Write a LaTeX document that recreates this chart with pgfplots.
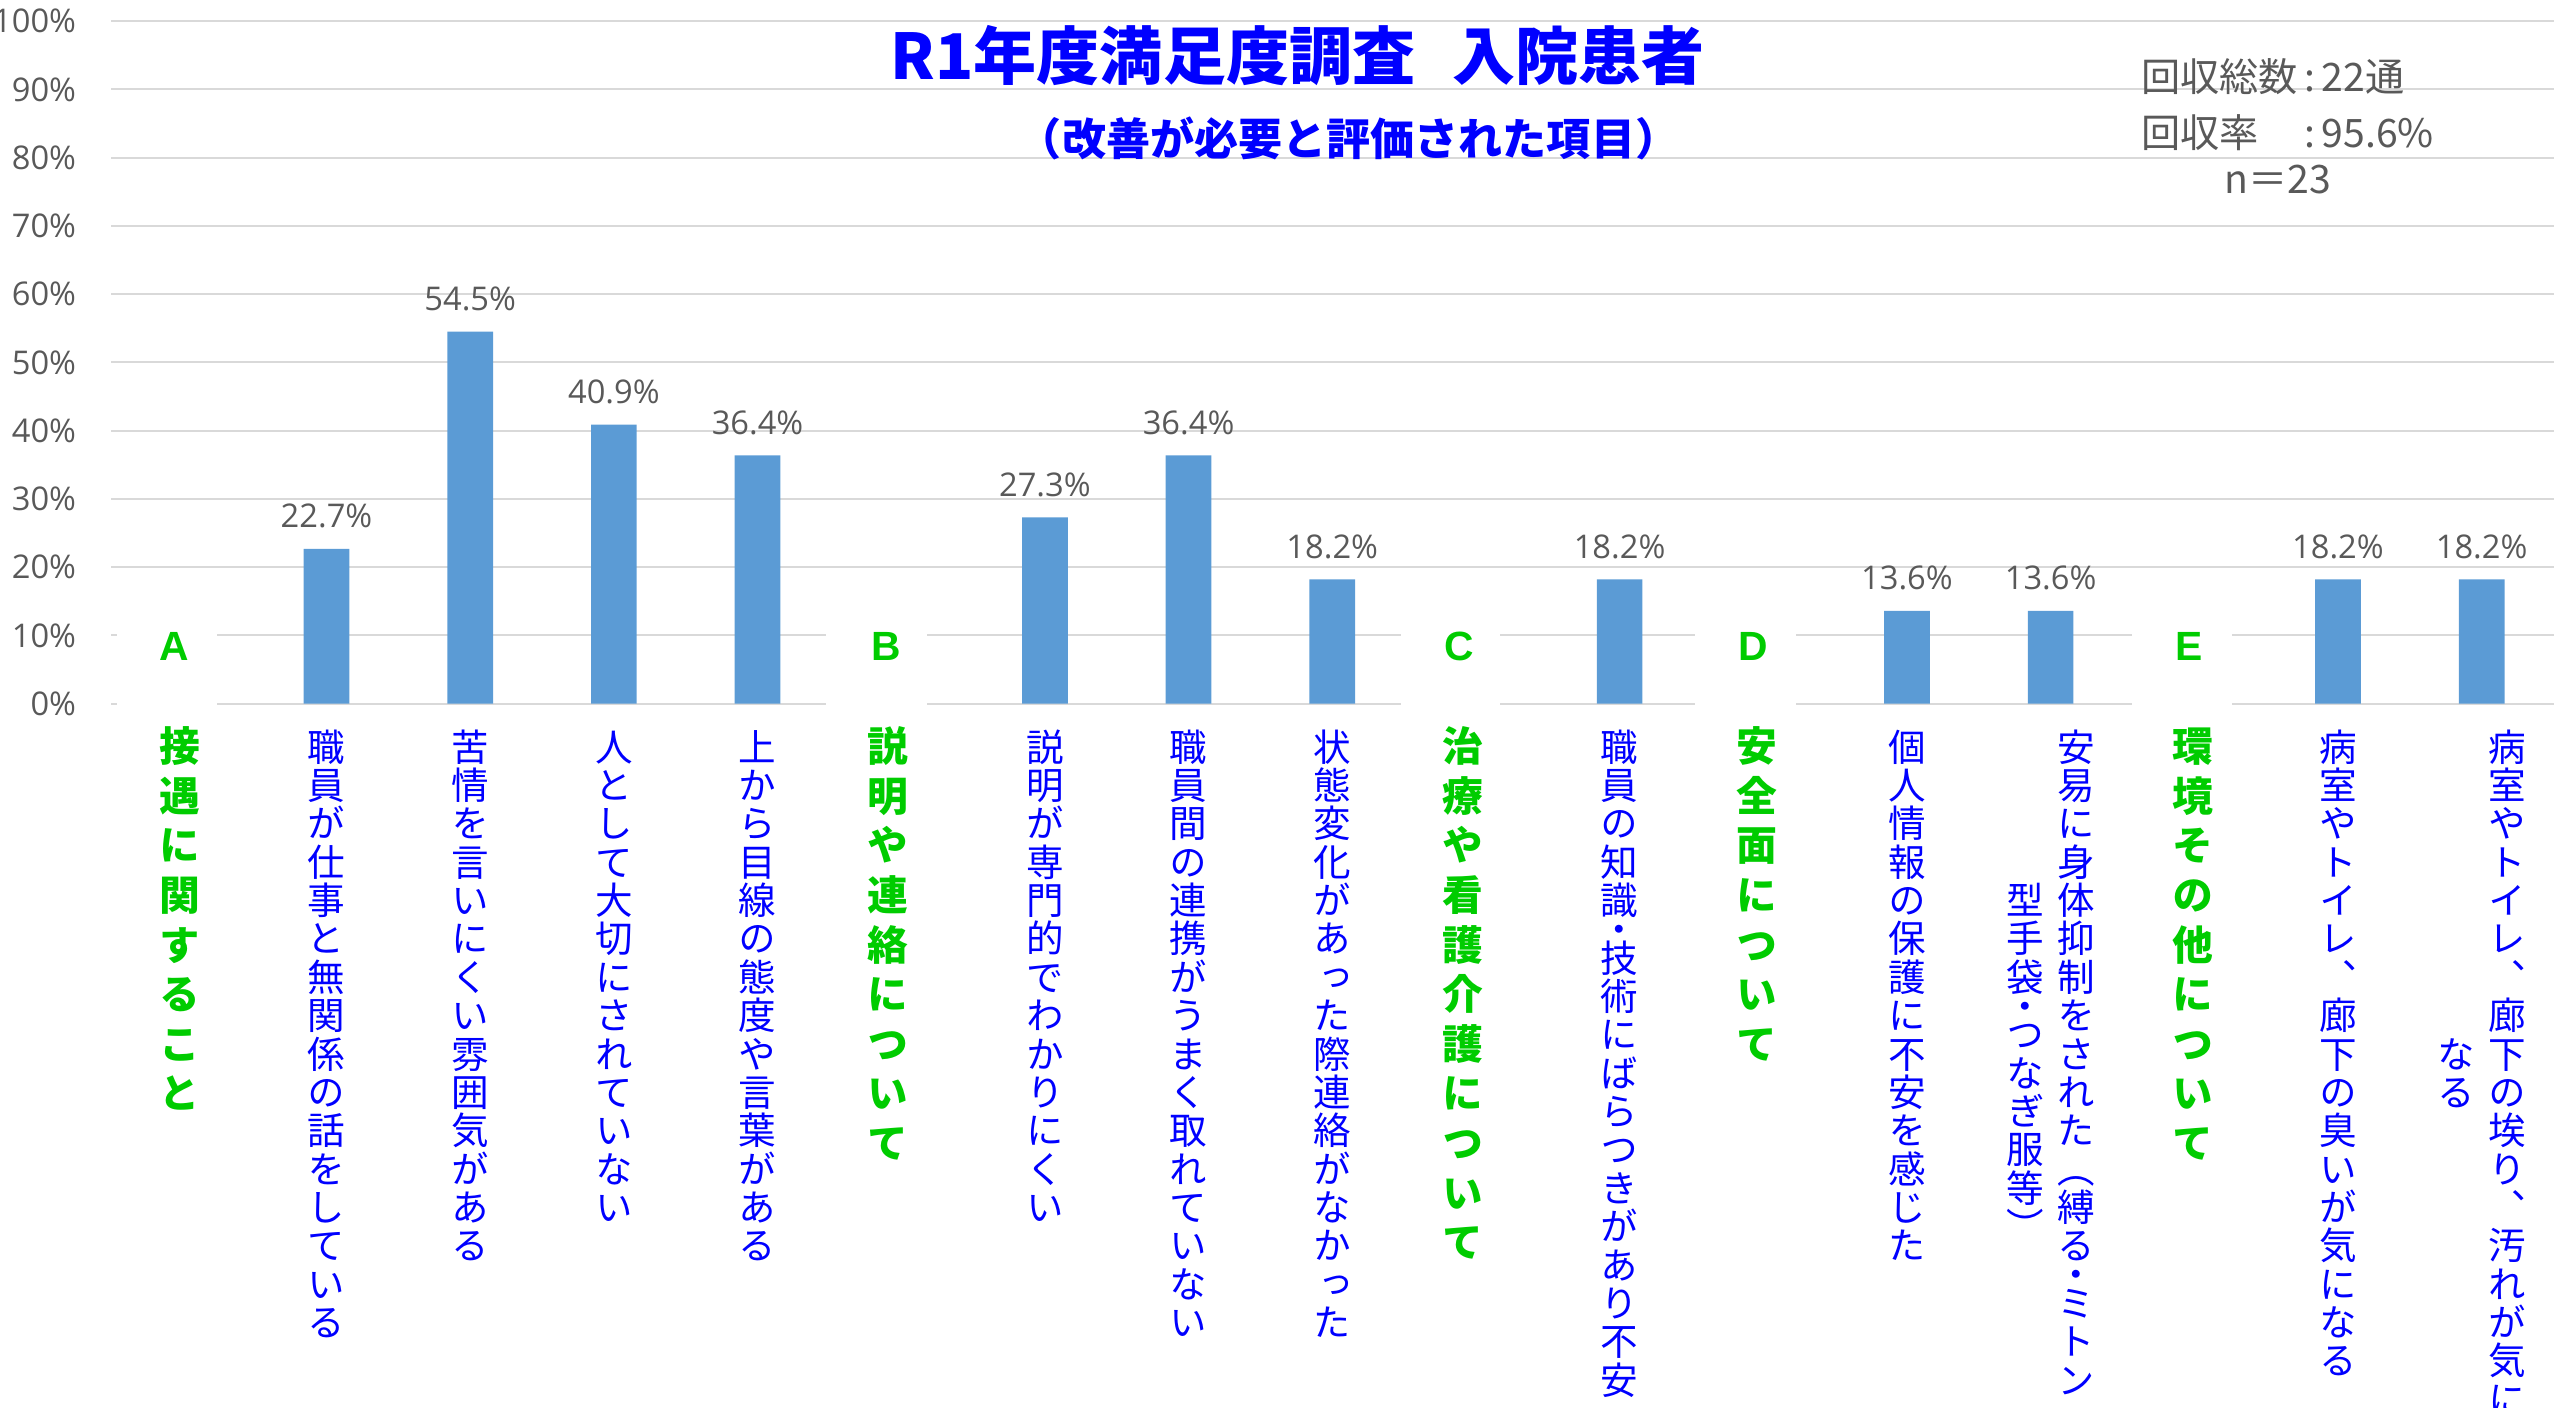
\documentclass[border=0pt]{standalone}
\usepackage{fontspec}
\usepackage{pgfplots}
\pgfplotsset{compat=1.18}
\newfontfamily\jp{Noto Sans CJK JP}
\newfontfamily\jpv{Noto Sans CJK JP}[RawFeature=+vert]
\newfontfamily\lat{Open Sans}
\newfontfamily\arl{Liberation Sans}
\definecolor{barblue}{HTML}{5B9BD5}
\definecolor{txtgray}{HTML}{595959}
\definecolor{gridgray}{HTML}{D9D9D9}
\definecolor{hgreen}{HTML}{00CC00}
\definecolor{lblue}{HTML}{0000FF}
\makeatletter
\newdimen\vpitch
\vpitch=11.75pt
\def\vcol@end{\vcol@end}
\protected\def\vcol#1{\vtop{\baselineskip=\vpitch\lineskiplimit=-\maxdimen\lineskip=0pt\relax\vcol@loop#1\vcol@end}}
\def\vcol@loop#1{\ifx\vcol@end#1\else
  \ifx#1・\vskip-.25\vpitch\fi
  \hbox to 1em{\hss#1\hss\vrule height .88em depth .12em width 0pt}%
  \ifx#1・\vskip-.25\vpitch\fi
  \expandafter\vcol@loop\fi}
\protected\def\vtwo#1#2#3{\hbox{\lower#1\vpitch\vcol{#2}\kern4.2pt\vcol{#3}}}
\makeatother
\begin{document}
\begin{tikzpicture}
\path[use as bounding box] (-34pt,-215.5pt) rectangle (750pt,215.5pt);
\clip (-34pt,-215.5pt) rectangle (750pt,215.5pt);
\begin{axis}[
  at={(0pt,0pt)}, anchor=south west,
  scale only axis, width=748pt, height=209pt,
  xmin=-0.5, xmax=16.5, ymin=0, ymax=100,
  clip=false,
  axis line style={draw=none},
  tick style={draw=none},
  ymajorgrids, major grid style={draw=gridgray, line width=0.6pt},
  ytick={0,10,...,100},
  yticklabels={0\%,10\%,20\%,30\%,40\%,50\%,60\%,70\%,80\%,90\%,100\%},
  yticklabel style={font=\lat\fontsize{10}{12}\selectfont, text=txtgray, anchor=east, inner sep=0pt, xshift=-10.5pt},
  xtick={0,...,16},
  xticklabels={
    {},
    {\vcol{職員が仕事と無関係の話をしている}},
    {\vcol{苦情を言いにくい雰囲気がある}},
    {\vcol{人として大切にされていない}},
    {\vcol{上から目線の態度や言葉がある}},
    {},
    {\vcol{説明が専門的でわかりにくい}},
    {\vcol{職員間の連携がうまく取れていない}},
    {\vcol{状態変化があった際連絡がなかった}},
    {},
    {\vcol{職員の知識・技術にばらつきがあり不安}},
    {},
    {\vcol{個人情報の保護に不安を感じた}},
    {\vtwo{4}{型手袋・つなぎ服等︶}{安易に身体抑制をされた︵縛る・ミトン}},
    {},
    {\vcol{病室やトイレ︑廊下の臭いが気になる}},
    {\vtwo{8}{なる}{病室やトイレ︑廊下の埃り︑汚れが気に}}
  },
  xticklabel style={font=\jpv\fontsize{11.5}{11.75}\selectfont, text=lblue, anchor=north, inner sep=0pt, yshift=-3pt},
  ybar, bar width=14pt,
  /pgf/number format/assume math mode=true,
  nodes near coords={\pgfmathprintnumber[fixed,fixed zerofill,precision=1]{\pgfplotspointmeta}\%},
  every node near coord/.append style={font=\lat\fontsize{10}{12}\selectfont, text=txtgray, anchor=base, inner sep=0pt, yshift=6.4pt},
]
\addplot[fill=barblue, draw=none] coordinates {
  (1,22.7) (2,54.5) (3,40.9) (4,36.4)
  (6,27.3) (7,36.4) (8,18.2)
  (10,18.2)
  (12,13.6) (13,13.6)
  (15,18.2) (16,18.2)
};
% white text boxes of the section headers
\fill[white] (axis cs:-0.455,-2) rectangle (axis cs:0.239,14);
\fill[white] (axis cs:4.477,-2) rectangle (axis cs:5.182,14);
\fill[white] (axis cs:8.477,-2) rectangle (axis cs:9.17,14);
\fill[white] (axis cs:10.523,-2) rectangle (axis cs:11.227,14);
\fill[white] (axis cs:13.568,-2) rectangle (axis cs:14.261,14);
\node[font=\arl\bfseries\fontsize{12.5}{14}\selectfont, text=hgreen, inner sep=0pt] at (axis cs:-0.057,8.37) {A};
\node[font=\arl\bfseries\fontsize{12.5}{14}\selectfont, text=hgreen, inner sep=0pt] at (axis cs:4.894,8.37) {B};
\node[font=\arl\bfseries\fontsize{12.5}{14}\selectfont, text=hgreen, inner sep=0pt] at (axis cs:8.883,8.37) {C};
\node[font=\arl\bfseries\fontsize{12.5}{14}\selectfont, text=hgreen, inner sep=0pt] at (axis cs:10.928,8.37) {D};
\node[font=\arl\bfseries\fontsize{12.5}{14}\selectfont, text=hgreen, inner sep=0pt] at (axis cs:13.966,8.37) {E};
\node[font=\jpv\bfseries\fontsize{12.5}{15.2}\selectfont, text=hgreen, inner sep=0pt, anchor=north, yshift=-6.5pt] at (axis cs:-0.023,0) {\vpitch=15.2pt\relax\vcol{接遇に関すること}};
\node[font=\jpv\bfseries\fontsize{12.5}{15.2}\selectfont, text=hgreen, inner sep=0pt, anchor=north, yshift=-6.5pt] at (axis cs:4.91,0) {\vpitch=15.2pt\relax\vcol{説明や連絡について}};
\node[font=\jpv\bfseries\fontsize{12.5}{15.2}\selectfont, text=hgreen, inner sep=0pt, anchor=north, yshift=-6.5pt] at (axis cs:8.91,0) {\vpitch=15.2pt\relax\vcol{治療や看護介護について}};
\node[font=\jpv\bfseries\fontsize{12.5}{15.2}\selectfont, text=hgreen, inner sep=0pt, anchor=north, yshift=-6.5pt] at (axis cs:10.955,0) {\vpitch=15.2pt\relax\vcol{安全面について}};
\node[font=\jpv\bfseries\fontsize{12.5}{15.2}\selectfont, text=hgreen, inner sep=0pt, anchor=north, yshift=-6.5pt] at (axis cs:13.99,0) {\vpitch=15.2pt\relax\vcol{環境その他について}};
\end{axis}
\node[font=\jp\bfseries\fontsize{19.3}{22}\selectfont, text=lblue, inner sep=0pt] at (363.5pt,198.5pt) {R1年度満足度調査\hspace{0.6em}入院患者};
\node[font=\jp\bfseries\fontsize{13.5}{16}\selectfont, text=lblue, inner sep=0pt] at (379pt,173pt) {（改善が必要と評価された項目）};
\node[font=\jp\fontsize{12}{14}\selectfont, text=txtgray, inner sep=0pt, anchor=west] at (621.5pt,192pt) {回収総数\,:\,22通};
\node[font=\jp\fontsize{12}{14}\selectfont, text=txtgray, inner sep=0pt, anchor=west] at (621.5pt,175pt) {回収率　\,:\,95.6\%};
\node[font=\jp\fontsize{12}{14}\selectfont, text=txtgray, inner sep=0pt, anchor=west] at (647pt,160.5pt) {n＝23};
\end{tikzpicture}
\end{document}
